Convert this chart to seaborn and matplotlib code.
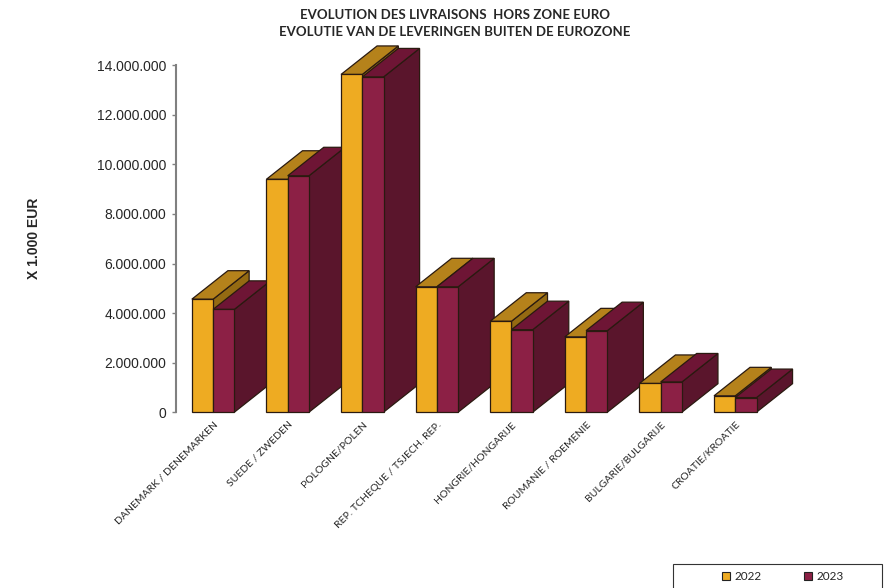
import pandas as pd
import numpy as np
import matplotlib
matplotlib.use('Agg')
import matplotlib.pyplot as plt
from matplotlib.patches import Polygon, Rectangle
from matplotlib.lines import Line2D
from matplotlib.ticker import FuncFormatter
import seaborn as sns

# data (x 1.000 EUR)
pays = ['DANEMARK / DENEMARKEN', 'SUEDE / ZWEDEN', 'POLOGNE/POLEN',
        'REP. TCHEQUE / TSJECH. REP.', 'HONGRIE/HONGARIJE',
        'ROUMANIE / ROEMENIE', 'BULGARIE/BULGARIJE', 'CROATIE/KROATIE']
val_2022 = [4560000, 9400000, 13630000, 5060000, 3670000, 3040000, 1160000, 660000]
val_2023 = [4150000, 9540000, 13530000, 5060000, 3330000, 3290000, 1220000, 590000]
years = ['2022', '2023']

df = pd.DataFrame({
    'pays': pays * 2,
    'val': val_2022 + val_2023,
    'year': ['2022'] * len(pays) + ['2023'] * len(pays),
})

front = {'2022': '#EEAB22', '2023': '#8C2045'}
top = {'2022': '#B5821B', '2023': '#6E1535'}
side = {'2022': '#946A12', '2023': '#5A152C'}

sns.set_style('white')
calib = ['Lato', 'DejaVu Sans']
plt.rcParams['font.family'] = ['Liberation Sans', 'DejaVu Sans']

fig = plt.figure(figsize=(8.88, 5.88), dpi=100)
ax = fig.add_axes([0.198, 0.299, 0.672, 0.590])

sns.barplot(data=df, x='pays', y='val', hue='year', palette=front, saturation=1,
            width=0.57, gap=0, legend=False, ax=ax,
            edgecolor='#2a1a10', linewidth=0.9)

# fake 3D depth
ddx = 0.483
ddy = 1150000
for j, cont in enumerate(ax.containers):
    yr = years[j]
    for i, bar in enumerate(cont):
        x0 = bar.get_x()
        w = bar.get_width()
        h = bar.get_height()
        z = 2 + i * 2 + j * 0.5
        bar.set_zorder(z + 0.2)
        bar.set_clip_on(False)
        sd = Polygon([(x0 + w, 0), (x0 + w + ddx, ddy), (x0 + w + ddx, h + ddy), (x0 + w, h)],
                     closed=True, facecolor=side[yr], edgecolor='#2a1a10', lw=0.9,
                     zorder=z, clip_on=False)
        tp = Polygon([(x0, h), (x0 + ddx, h + ddy), (x0 + w + ddx, h + ddy), (x0 + w, h)],
                     closed=True, facecolor=top[yr], edgecolor='#2a1a10', lw=0.9,
                     zorder=z + 0.1, clip_on=False)
        ax.add_patch(sd)
        ax.add_patch(tp)

ax.set_xlim(-0.5, 7.5)
ax.set_ylim(0, 14000000)
ax.set_yticks(np.arange(0, 14000001, 2000000))
ax.yaxis.set_major_formatter(FuncFormatter(lambda v, p: f'{int(v):,}'.replace(',', '.')))
ax.tick_params(axis='y', left=True, length=3, width=1, color='#808080', labelsize=10, pad=4)
ax.tick_params(axis='x', bottom=False, pad=2)
for s in ['top', 'right', 'bottom']:
    ax.spines[s].set_visible(False)
ax.spines['left'].set_color('#808080')
ax.spines['left'].set_linewidth(1.5)

ax.set_xticks(range(len(pays)))
ax.set_xticklabels(pays, rotation=45, ha='right', va='top', rotation_mode='anchor',
                   fontsize=7.5, family=calib)
ax.set_xlabel('')
ax.set_ylabel('X 1.000 EUR', fontsize=10, fontweight='bold', labelpad=40)

fig.text(0.512, 0.975, 'EVOLUTION DES LIVRAISONS  HORS ZONE EURO', ha='center', va='center',
         fontsize=9.5, fontweight='bold', family=calib)
fig.text(0.512, 0.945, 'EVOLUTIE VAN DE LEVERINGEN BUITEN DE EUROZONE', ha='center', va='center',
         fontsize=9.5, fontweight='bold', family=calib)

# legend box at the bottom right, partly cut by the figure edge
fig.patches.append(Rectangle((673 / 888, -0.01), 209 / 888, 24 / 588 + 0.01,
                             transform=fig.transFigure, facecolor='white',
                             edgecolor='#333333', lw=0.8))
handles = [Line2D([], [], marker='s', ls='', markersize=6, markerfacecolor=front[y],
                  markeredgecolor='#222222', markeredgewidth=0.8) for y in years]
leg = fig.legend(handles, years, loc='center', bbox_to_anchor=(782 / 888, 1 - 577 / 588),
                 ncol=2, frameon=False, fontsize=8.5, prop={'family': calib, 'size': 8.5},
                 handletextpad=0.2, handlelength=1.0, columnspacing=3.4, borderaxespad=0)

fig.savefig('out.png', dpi=100)
